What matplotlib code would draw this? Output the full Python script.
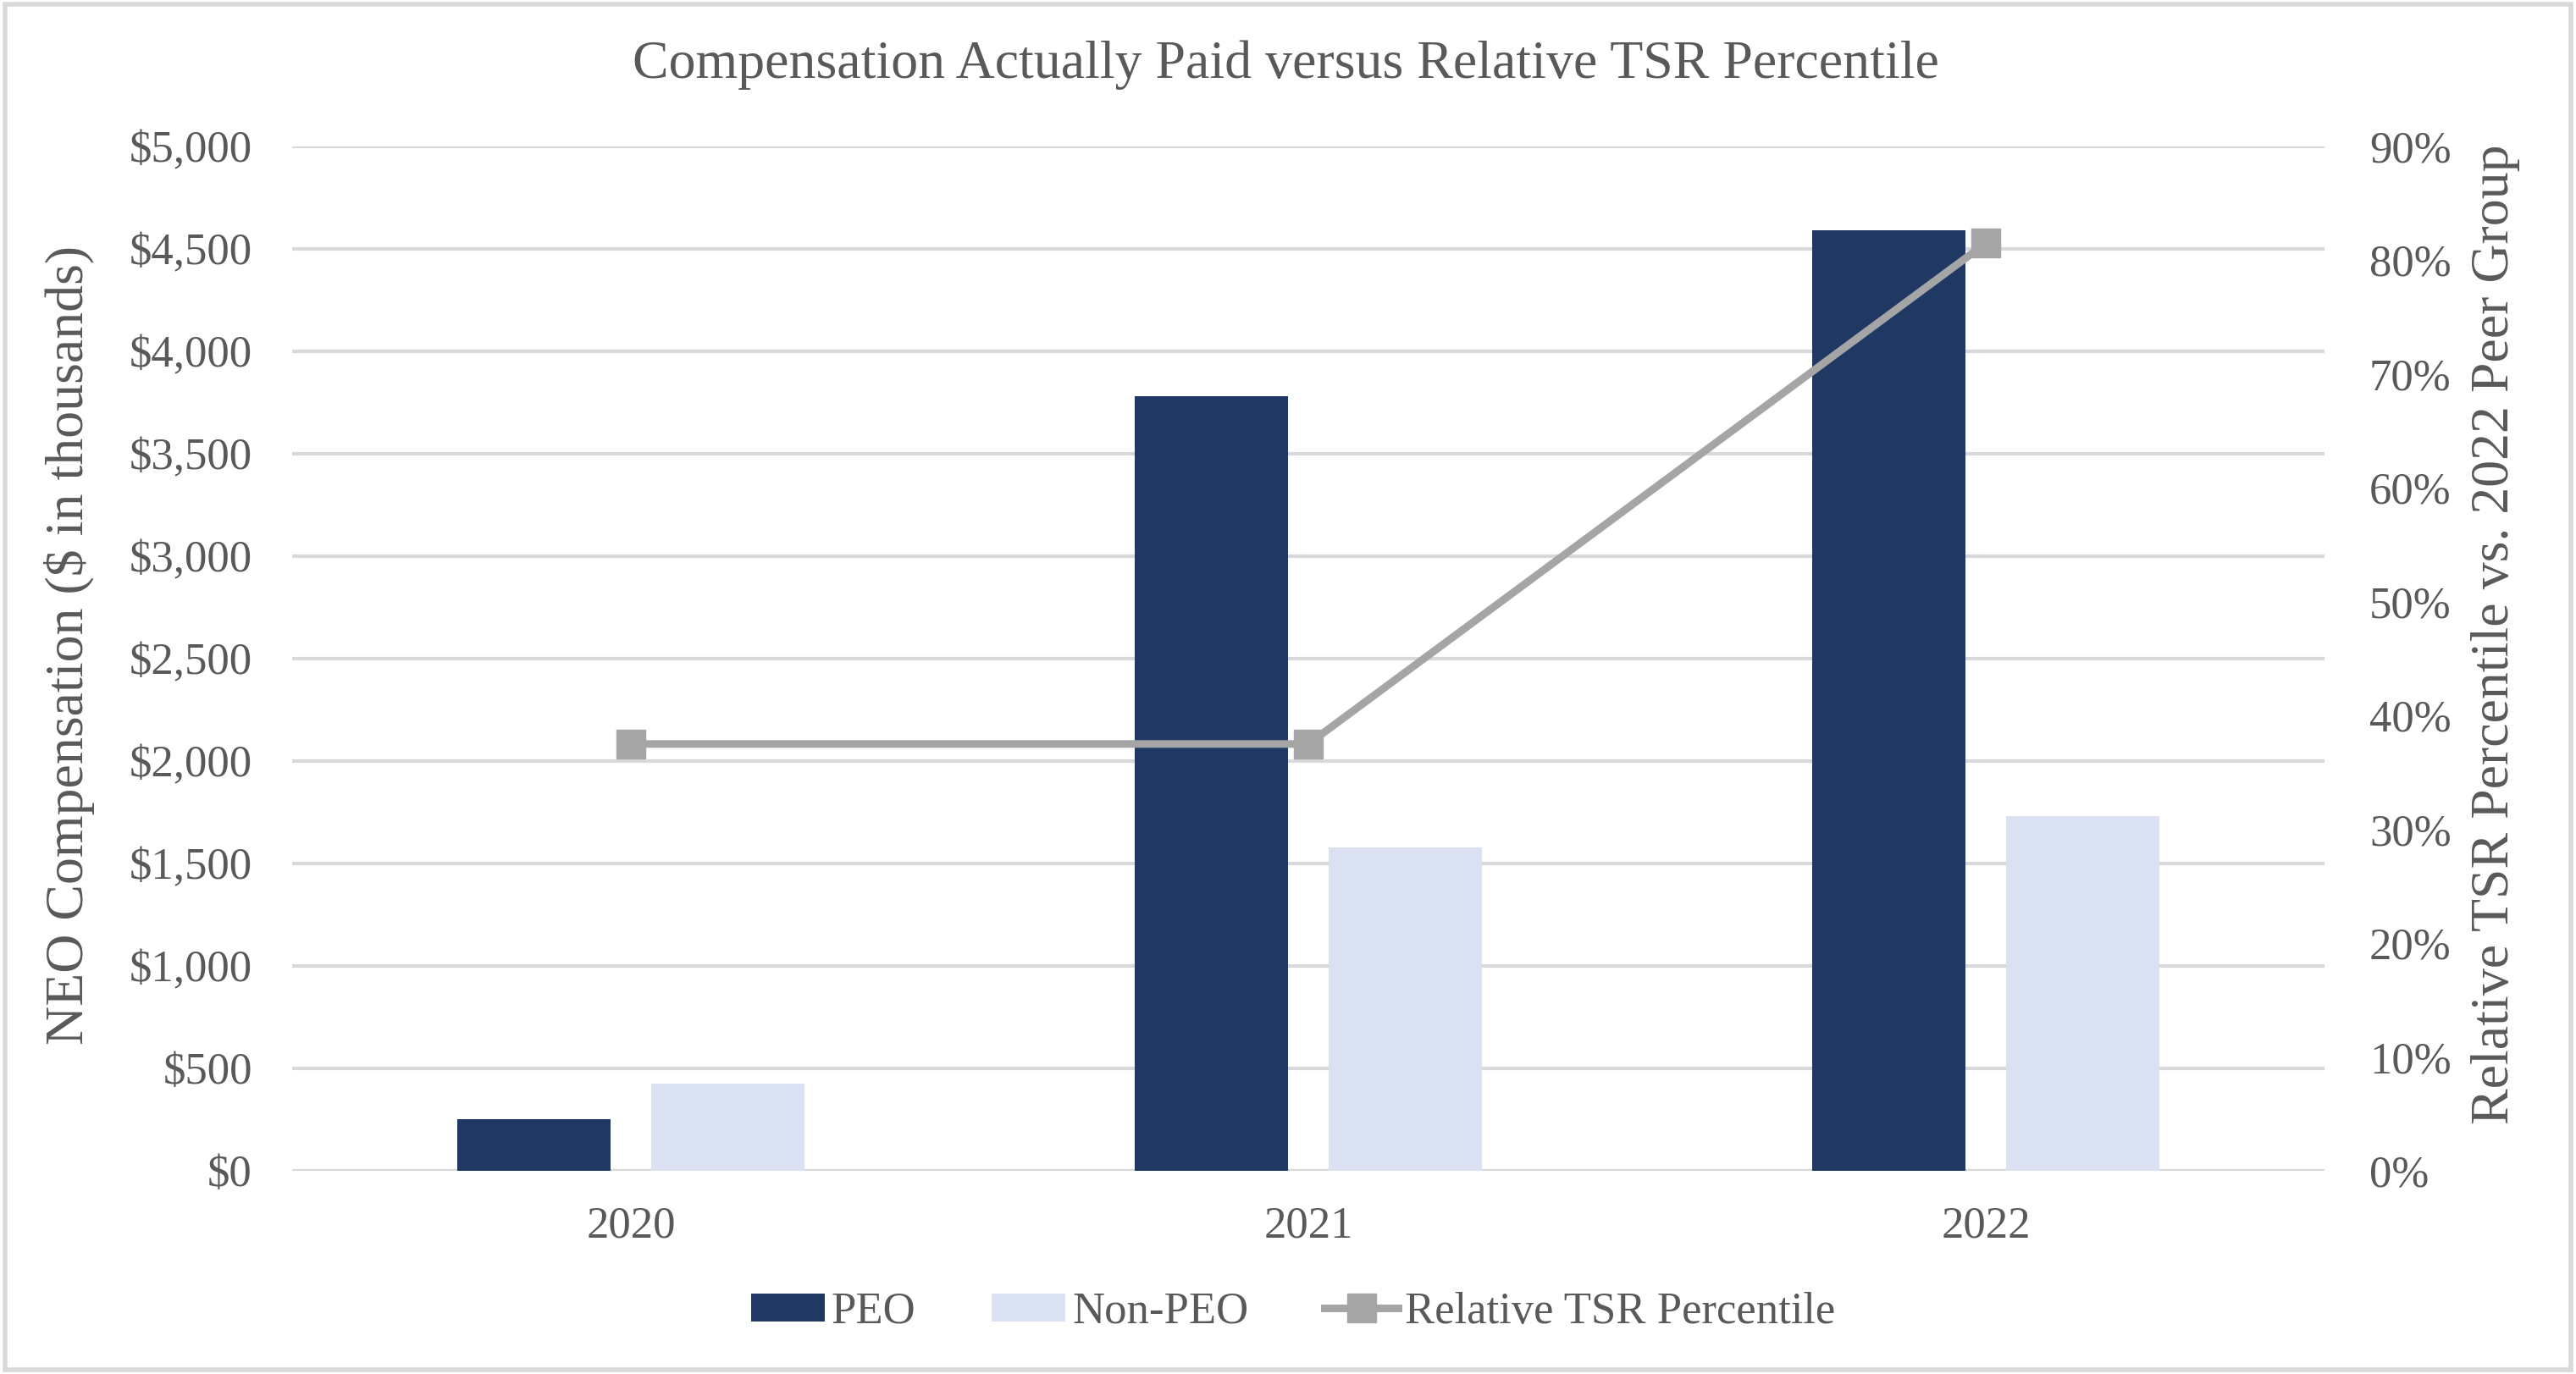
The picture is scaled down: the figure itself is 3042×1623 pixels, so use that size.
import matplotlib.pyplot as plt
import numpy as np
from matplotlib.lines import Line2D
from matplotlib.patches import Patch, Rectangle
from matplotlib.ticker import FuncFormatter

# ---- data ----
years = ["2020", "2021", "2022"]
peo = [252, 3780, 4590]          # $ thousands
non_peo = [426, 1578, 1731]      # $ thousands
tsr_pct = [37.5, 37.5, 81.5]     # percentile

navy = "#203864"
light = "#DAE1F2"
grey_line = "#A5A5A5"
txt = "#595959"
grid_c = "#D9D9D9"

plt.rcParams['font.family'] = ['Liberation Serif', 'DejaVu Serif']

fig = plt.figure(figsize=(30.42, 16.23), dpi=100)
ax = fig.add_axes([0.1134, 0.1479, 0.7890, 0.7455])
ax2 = ax.twinx()

x = np.arange(len(years))
w = 0.226
off = 0.143
ax.bar(x - off, peo, w, color=navy, zorder=3)
ax.bar(x + off, non_peo, w, color=light, zorder=3)

ax.set_xlim(-0.5, 2.5)
ax.set_ylim(0, 5000)
ax.set_yticks(np.arange(0, 5001, 500))
ax.yaxis.set_major_formatter(FuncFormatter(lambda v, p: f"${v:,.0f}"))
ax.set_xticks(x)
ax.set_xticklabels(years)
ax.grid(axis="y", color=grid_c, linewidth=3, zorder=0)
ax.set_axisbelow(True)

ax2.plot(x, tsr_pct, color=grey_line, linewidth=6.5, marker="s", markersize=24,
         zorder=5)
ax2.set_ylim(0, 90)
ax2.set_yticks(np.arange(0, 91, 10))
ax2.yaxis.set_major_formatter(FuncFormatter(lambda v, p: f"{v:.0f}%"))

for a in (ax, ax2):
    for s in a.spines.values():
        s.set_visible(False)
    a.tick_params(length=0, labelsize=38, colors=txt)
ax.tick_params(axis="y", pad=34)
ax.tick_params(axis="x", pad=30)
ax2.tick_params(axis="y", pad=38)

ax.set_ylabel("NEO Compensation ($ in thousands)", fontsize=46, color=txt)
ax.yaxis.set_label_coords(-0.097, 0.513)
ax2.set_ylabel("Relative TSR Percentile vs. 2022 Peer Group", fontsize=46,
               color=txt)
ax2.yaxis.set_label_coords(1.072, 0.524)

fig.text(0.499, 0.953, "Compensation Actually Paid versus Relative TSR Percentile",
         ha="center", va="center", fontsize=46, color=txt)

handles = [Patch(facecolor=navy), Patch(facecolor=light),
           Line2D([0], [0], color=grey_line, linewidth=6.5, marker="s", markersize=24)]
labels = ["PEO", "Non-PEO", "Relative TSR Percentile"]
fig.legend(handles, labels, loc="center", bbox_to_anchor=(0.502, 0.045), ncol=3,
           frameon=False, fontsize=38, labelcolor=txt, handlelength=1.65,
           handleheight=0.6, handletextpad=0.15, columnspacing=1.7)

# outer chart border
fig.patches.append(Rectangle((0.002, 0.003), 0.996, 0.994, transform=fig.transFigure,
                             fill=False, edgecolor=grid_c, linewidth=4))

fig.savefig("out.png", dpi=100)
